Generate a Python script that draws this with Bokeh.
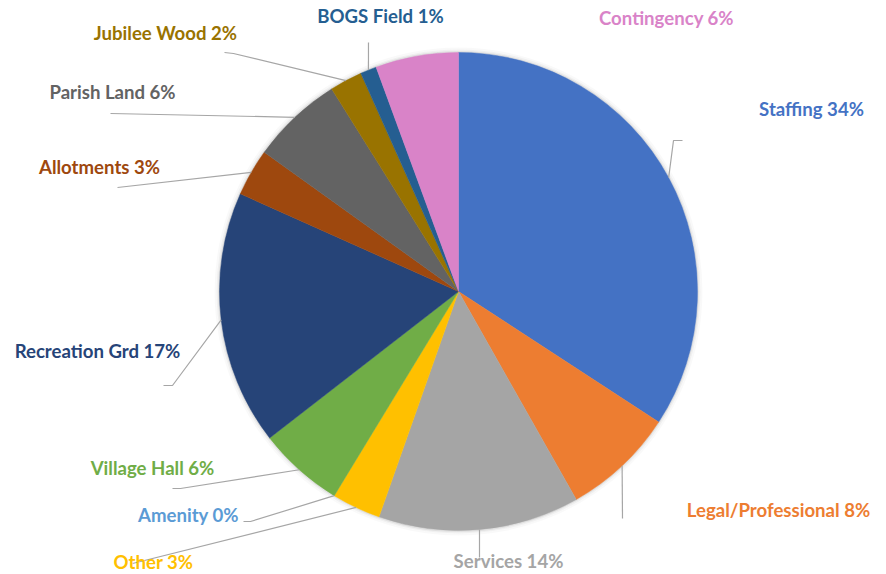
import math
from bokeh.plotting import figure
from bokeh.models import Range1d, ColumnDataSource
from bokeh.core.properties import value
from bokeh.embed import file_html
from bokeh.resources import INLINE

# ---- data ----
categories = ["Staffing", "Legal/Professional", "Services", "Other", "Amenity",
              "Village Hall", "Recreation Grd", "Allotments", "Parish Land",
              "Jubilee Wood", "BOGS Field", "Contingency"]
values = [34.2, 7.6, 13.6, 3.3, 0.0, 5.8, 17.2, 3.2, 6.2, 2.2, 1.1, 5.6]
colors = ["#4472C4", "#ED7D31", "#A5A5A5", "#FFC000", "#5B9BD5", "#70AD47",
          "#264478", "#9E480E", "#636363", "#997300", "#255E91", "#D983C8"]

# ---- layout (image pixel coordinates) ----
W, H = 886, 574
CX, CY, R = 458, 291, 239
label_cx = [811, 778, 508, 153, 188, 152, 97, 99, 112, 165, 380, 666]
label_cy = [108, 509, 560, 561, 514, 467, 350, 166, 91, 32, 15, 17]
leader_pts = [[(682, 140), (673, 140)], [(622, 518)], [(479, 557)], [(132, 563)],
              [(243, 521), (250, 521)], [(172, 488), (180, 488)],
              [(163, 385), (172, 385)], [(117, 187)], [(110, 113)],
              [(224, 52), (233, 53)], [(368, 42)], None]

def Y(y):
    return H - y

total = sum(values)
fr0, fr1, mids = [], [], []
acc = 0.0
for v in values:
    fr0.append(acc / total)
    acc += v
    fr1.append(acc / total)
    mids.append((fr0[-1] + fr1[-1]) / 2)

keep = [i for i, v in enumerate(values) if v > 0]
start_ang = [math.pi / 2 - 2 * math.pi * fr1[i] for i in keep]
end_ang = [math.pi / 2 - 2 * math.pi * fr0[i] for i in keep]

p = figure(width=W, height=H, output_backend="svg", toolbar_location=None,
           x_range=Range1d(0, W), y_range=Range1d(0, H), min_border=0)
p.axis.visible = False
p.grid.visible = False
p.outline_line_color = None
p.background_fill_color = "white"
p.border_fill_color = "white"

# soft shadow
for r0, r1, a in [(R - 1, R + 1.5, 0.12), (R + 1.5, R + 3, 0.06), (R + 3, R + 5, 0.025)]:
    p.annulus(x=[CX], y=[Y(CY)], inner_radius=r0, outer_radius=r1,
              fill_color="#000000", fill_alpha=a, line_color=None)

src = ColumnDataSource(dict(start=start_ang, end=end_ang, color=[colors[i] for i in keep]))
p.wedge(x=CX, y=Y(CY), radius=R, start_angle="start", end_angle="end",
        fill_color="color", line_color="color", line_width=0.5, source=src)

# leader lines
xs, ys = [], []
for i, pts in enumerate(leader_pts):
    if pts is None:
        continue
    a = 2 * math.pi * mids[i]
    ex = CX + R * math.sin(a)
    ey = CY - R * math.cos(a)
    xs.append([q[0] for q in pts] + [ex])
    ys.append([Y(q[1]) for q in pts] + [Y(ey)])
p.multi_line(xs=xs, ys=ys, line_color="#A6A6A6", line_width=1.2)

labels = [f"{c} {round(v / total * 100)}%" for c, v in zip(categories, values)]
tsrc = ColumnDataSource(dict(x=label_cx, y=[Y(v) for v in label_cy], t=labels, c=colors))
p.text(x="x", y="y", text="t", text_color="c", source=tsrc,
       text_font=value("Lato"), text_font_style="bold", text_font_size="18.6px",
       text_align="center", text_baseline="middle")

open("out.html", "w").write(file_html(p, INLINE))
